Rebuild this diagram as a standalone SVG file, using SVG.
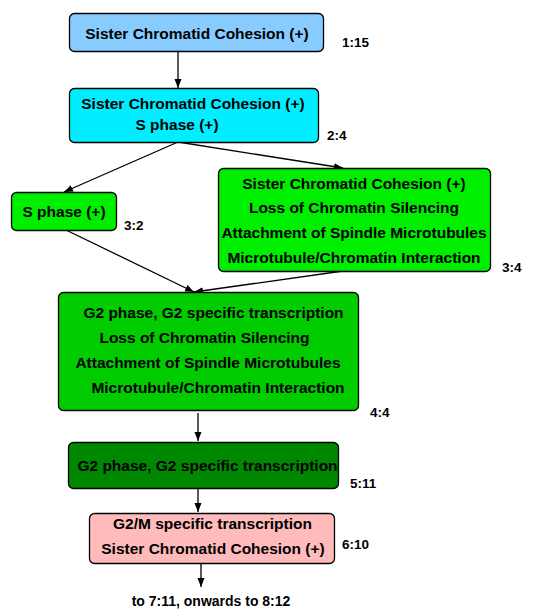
<svg xmlns="http://www.w3.org/2000/svg" width="558" height="609" viewBox="0 0 558 609">
<defs>
<marker id="ah" markerWidth="10" markerHeight="8" refX="9" refY="3.5" orient="auto" markerUnits="userSpaceOnUse">
<path d="M0,0 L9,3.5 L0,7 Z" fill="#000"/>
</marker>
<style>
.box{stroke:#000;stroke-width:1.3}
.t{font-family:"Liberation Sans",Arial,sans-serif;font-weight:bold;font-size:15.5px;fill:#000;text-anchor:middle}
.lbl{font-family:"Liberation Sans",Arial,sans-serif;font-weight:bold;font-size:13.5px;fill:#000}
.c{stroke:#000;stroke-width:1.3;fill:none;marker-end:url(#ah)}
</style>
</defs>
<rect width="558" height="609" fill="#fff"/>
<g id="connectors">
<line class="c" x1="178" y1="51" x2="178" y2="88"/>
<line class="c" x1="178" y1="142" x2="64" y2="192"/>
<line class="c" x1="178" y1="142" x2="343" y2="168"/>
<line class="c" x1="66" y1="230" x2="194" y2="292"/>
<line class="c" x1="343" y1="271" x2="194" y2="292"/>
<line class="c" x1="198" y1="413" x2="198" y2="441"/>
<line class="c" x1="198" y1="488" x2="198" y2="512"/>
<line class="c" x1="201" y1="563" x2="201" y2="587"/>
</g>
<g id="n1">
<rect class="box" x="69.5" y="13.5" width="254" height="38" rx="5" fill="#88ccff"/>
<text class="t" x="197" y="39">Sister Chromatid Cohesion (+)</text>
<text class="lbl" x="342" y="47">1:15</text>
</g>
<g id="n2">
<rect class="box" x="69.5" y="88.5" width="249" height="54" rx="5" fill="#00eeff"/>
<text class="t" x="193" y="109">Sister Chromatid Cohesion (+)</text>
<text class="t" x="177" y="130">S phase (+)</text>
<text class="lbl" x="327" y="140">2:4</text>
</g>
<g id="n3">
<rect class="box" x="11.5" y="192.5" width="105" height="38" rx="5" fill="#00ee00"/>
<text class="t" x="64" y="217">S phase (+)</text>
<text class="lbl" x="124" y="230">3:2</text>
</g>
<g id="n4">
<rect class="box" x="218.5" y="168.5" width="272" height="103" rx="5" fill="#00ee00"/>
<text class="t" x="354" y="189">Sister Chromatid Cohesion (+)</text>
<text class="t" x="354" y="213">Loss of Chromatin Silencing</text>
<text class="t" x="354" y="238">Attachment of Spindle Microtubules</text>
<text class="t" x="354" y="263">Microtubule/Chromatin Interaction</text>
<text class="lbl" x="502" y="272">3:4</text>
</g>
<g id="n5">
<rect class="box" x="58.5" y="292.5" width="300" height="118" rx="5" fill="#00cc00"/>
<text class="t" x="213.5" y="318">G2 phase, G2 specific transcription</text>
<text class="t" x="204.5" y="343">Loss of Chromatin Silencing</text>
<text class="t" x="208" y="368">Attachment of Spindle Microtubules</text>
<text class="t" x="218" y="393">Microtubule/Chromatin Interaction</text>
<text class="lbl" x="370" y="417">4:4</text>
</g>
<g id="n6">
<rect class="box" x="68.5" y="442.5" width="270" height="46" rx="5" fill="#008800"/>
<text class="t" x="207.5" y="471">G2 phase, G2 specific transcription</text>
<text class="lbl" x="350" y="488">5:11</text>
</g>
<g id="n7">
<rect class="box" x="89.5" y="513.5" width="245" height="50" rx="5" fill="#ffbbbb"/>
<text class="t" x="212.5" y="529">G2/M specific transcription</text>
<text class="t" x="213" y="554">Sister Chromatid Cohesion (+)</text>
<text class="lbl" x="342" y="549">6:10</text>
</g>
<g id="n8">
<text class="lbl" x="211" y="606" text-anchor="middle" style="font-size:14px">to 7:11, onwards to 8:12</text>
</g>
</svg>
